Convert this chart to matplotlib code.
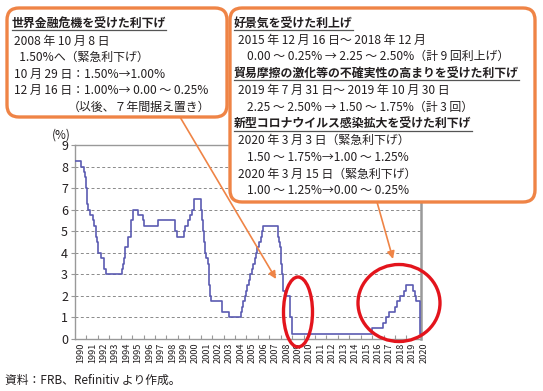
import matplotlib
matplotlib.use("Agg")
import matplotlib.pyplot as plt
from matplotlib.patches import FancyBboxPatch, Ellipse
import numpy as np

plt.rcParams['font.family'] = ['Noto Sans CJK JP', 'DejaVu Sans']

# FF rate target (upper bound), decimal year of change -> rate (%)
dates = [1990.00, 1990.54, 1990.83, 1990.87, 1990.93, 1990.97, 1991.02, 1991.08,
         1991.18, 1991.33, 1991.60, 1991.70, 1991.83, 1991.87, 1991.93, 1991.97,
         1992.27, 1992.50, 1992.68, 1994.09, 1994.23, 1994.30, 1994.38, 1994.63,
         1994.87, 1995.08, 1995.52, 1995.97, 1996.08, 1997.23, 1998.74, 1998.79,
         1998.88, 1999.50, 1999.65, 1999.88, 2000.09, 2000.22, 2000.38, 2001.01,
         2001.08, 2001.22, 2001.30, 2001.38, 2001.49, 2001.64, 2001.71, 2001.76,
         2001.84, 2001.94, 2002.85, 2003.48, 2004.49, 2004.61, 2004.72, 2004.86,
         2004.96, 2005.09, 2005.22, 2005.34, 2005.50, 2005.61, 2005.72, 2005.84,
         2005.96, 2006.08, 2006.24, 2006.36, 2006.49, 2007.72, 2007.83, 2007.95,
         2008.06, 2008.08, 2008.21, 2008.33, 2008.77, 2008.83, 2008.96, 2015.96,
         2016.96, 2017.21, 2017.46, 2017.96, 2018.21, 2018.46, 2018.74, 2018.97,
         2019.58, 2019.71, 2019.83, 2020.17, 2020.21, 2020.27]
rates = [8.25, 8.00, 7.75, 7.50, 7.25, 7.00, 6.75, 6.25,
         6.00, 5.75, 5.50, 5.25, 5.00, 4.75, 4.50, 4.00,
         3.75, 3.25, 3.00, 3.25, 3.50, 3.75, 4.25, 4.75,
         5.50, 6.00, 5.75, 5.50, 5.25, 5.50, 5.25, 5.00,
         4.75, 5.00, 5.25, 5.50, 5.75, 6.00, 6.50, 6.00,
         5.50, 5.00, 4.50, 4.00, 3.75, 3.50, 3.00, 2.50,
         2.00, 1.75, 1.25, 1.00, 1.25, 1.50, 1.75, 2.00,
         2.25, 2.50, 2.75, 3.00, 3.25, 3.50, 3.75, 4.00,
         4.25, 4.50, 4.75, 5.00, 5.25, 4.75, 4.50, 4.25,
         3.50, 3.00, 2.25, 2.00, 1.50, 1.00, 0.25, 0.50,
         0.75, 1.00, 1.25, 1.50, 1.75, 2.00, 2.25, 2.50,
         2.25, 2.00, 1.75, 1.25, 0.25, 0.25]
years = list(range(1990, 2021))

box1_title = "世界金融危機を受けた利下げ"
box1_lines = ["2008 年 10 月 8 日",
              "  1.50%へ（緊急利下げ）",
              "10 月 29 日：1.50%→1.00%",
              "12 月 16 日：1.00%→ 0.00 ～ 0.25%",
              "（以後、７年間据え置き）"]
box2_blocks = [
    ("好景気を受けた利上げ",
     ["2015 年 12 月 16 日～ 2018 年 12 月",
      "0.00 ～ 0.25% → 2.25 ～ 2.50%（計 9 回利上げ）"]),
    ("貿易摩擦の激化等の不確実性の高まりを受けた利下げ",
     ["2019 年 7 月 31 日～ 2019 年 10 月 30 日",
      "2.25 ～ 2.50% → 1.50 ～ 1.75%（計 3 回）"]),
    ("新型コロナウイルス感染拡大を受けた利下げ",
     ["2020 年 3 月 3 日（緊急利下げ）",
      "1.50 ～ 1.75%→1.00 ～ 1.25%",
      "2020 年 3 月 15 日（緊急利下げ）",
      "1.00 ～ 1.25%→0.00 ～ 0.25%"]),
]
source = "資料：FRB、Refinitiv より作成。"

W, H = 543, 391
orange = "#ef8446"
red = "#e3141c"
txt = "#231f20"
fs = 8.6

fig = plt.figure(figsize=(W / 100, H / 100), dpi=100)
ax = fig.add_axes([75 / W, 1 - 339 / H, (421 - 75) / W, (339 - 145) / H])

ax.step(dates, rates, where='post', color="#5b5bb2", lw=1.2, zorder=3)
ax.set_xlim(1990, 2020.27)
ax.set_ylim(0, 9)
ax.set_yticks(range(0, 10))
for v in range(1, 9):
    ax.axhline(v, color="#8a8a8a", lw=0.7, ls=(0, (3, 2.5)), zorder=1)
for s in ax.spines.values():
    s.set_color("#999999")
    s.set_linewidth(1.0)
ax.spines['right'].set_linewidth(1.8)
ax.set_xticks(years[1:-1])
ax.set_xticklabels([])
ax.tick_params(axis='x', direction='in', length=3, color="#999999")
ax.tick_params(axis='y', direction='out', length=3, color="#999999",
               labelsize=9, labelcolor=txt, pad=2)
for y in years:
    ax.text(y + 0.52, -0.018, str(y), transform=ax.get_xaxis_transform(),
            rotation=90, ha='center', va='top', fontsize=6.6, color=txt)
ax.text(-0.04, 1.02, "(%)", transform=ax.transAxes, ha='center', va='bottom',
        fontsize=8.5, color=txt)

# overlay in pixel coordinates for boxes, arrows and circles
ov = fig.add_axes([0, 0, 1, 1], zorder=5)
ov.set_xlim(0, W)
ov.set_ylim(H, 0)
ov.axis('off')
ov.patch.set_alpha(0)

ov.add_patch(FancyBboxPatch((7, 8), 220, 109, boxstyle="round,pad=0,rounding_size=12",
                            ec=orange, fc="white", lw=2.4))
ov.add_patch(FancyBboxPatch((230, 8), 305, 194, boxstyle="round,pad=0,rounding_size=12",
                            ec=orange, fc="white", lw=2.4))

ov.annotate("", xy=(276, 279), xytext=(180, 117),
            arrowprops=dict(arrowstyle='-|>', color=orange, lw=1.2,
                            mutation_scale=11, shrinkA=0, shrinkB=0))
ov.annotate("", xy=(393, 259), xytext=(377, 202),
            arrowprops=dict(arrowstyle='-|>', color=orange, lw=1.2,
                            mutation_scale=11, shrinkA=0, shrinkB=0))

ov.add_patch(Ellipse((298, 312), 29, 70, fill=False, ec=red, lw=2.4))
ov.add_patch(Ellipse((399, 303), 82, 77, fill=False, ec=red, lw=2.4))

titles = []
t = ov.text(12, 23, box1_title, fontsize=fs, fontweight='bold', color=txt, va='center')
titles.append(t)
ys1 = [41, 57, 74, 90, 107]
xs1 = [14, 14, 14, 14, 68]
for s, x, y in zip(box1_lines, xs1, ys1):
    ov.text(x, y, s, fontsize=fs, color=txt, va='center')

y = 23
for title, lines in box2_blocks:
    t = ov.text(234, y, title, fontsize=fs, fontweight='bold', color=txt, va='center')
    titles.append(t)
    y += 17
    for i, s in enumerate(lines):
        x = 238 if i % 2 == 0 else 247
        ov.text(x, y, s, fontsize=fs, color=txt, va='center')
        y += 16.7

fig.text(5 / W, 1 - 380 / H, source, fontsize=8.5, color=txt, va='center')

fig.canvas.draw()
inv = ov.transData.inverted()
for t in titles:
    bb = t.get_window_extent()
    (x0, y0), (x1, _) = inv.transform([[bb.x0, bb.y0], [bb.x1, bb.y1]])
    ov.plot([x0, x1], [y0 + 0.5, y0 + 0.5], color="#555555", lw=0.9)

fig.savefig("out.png", dpi=100)
